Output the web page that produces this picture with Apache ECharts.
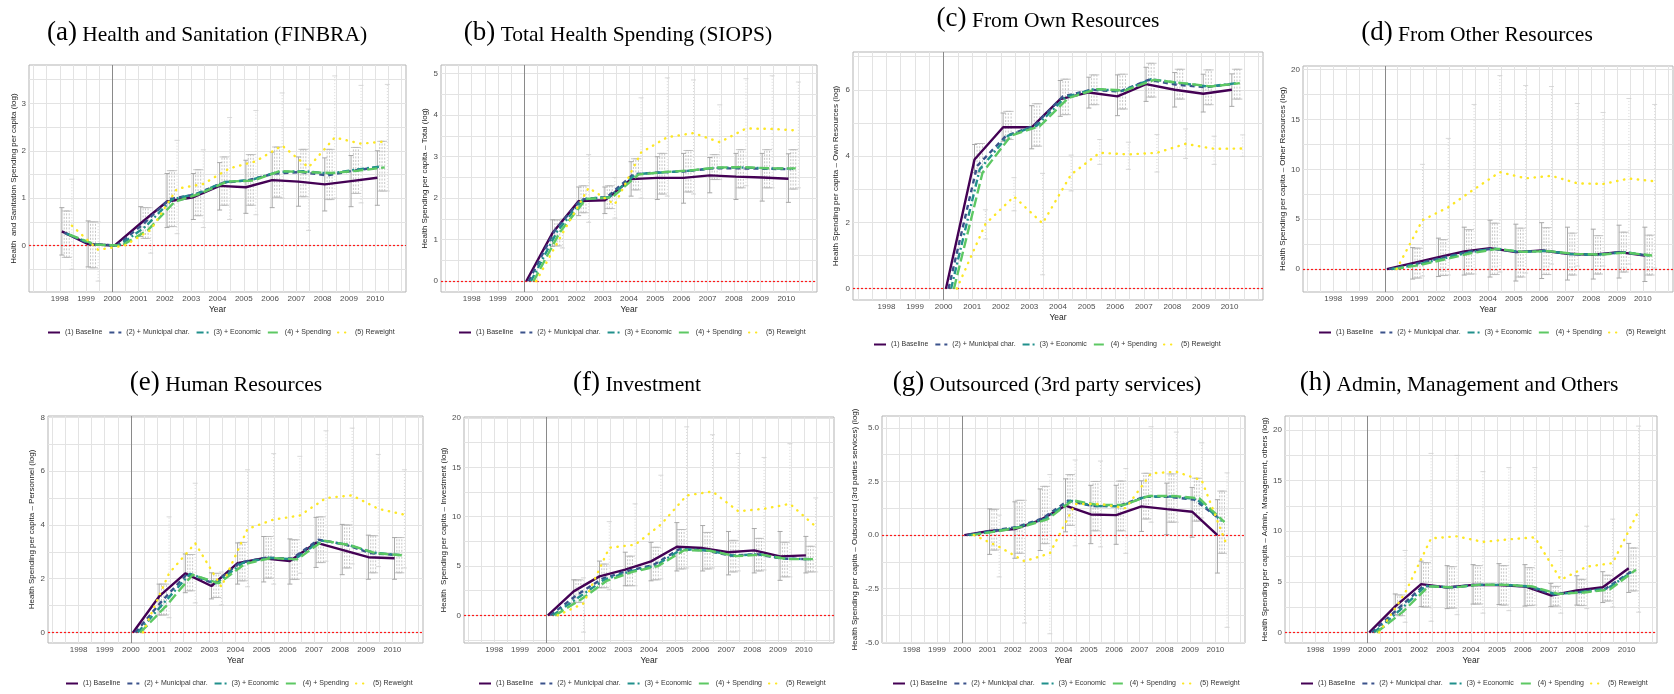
<!DOCTYPE html>
<html>
<head>
<meta charset="utf-8">
<script src="https://cdn.jsdelivr.net/npm/echarts@6.0.0/dist/echarts.min.js"></script>
<style>
  html, body { margin: 0; padding: 0; background: #ffffff; }
  #chart { width: 1674px; height: 694px; }
</style>
</head>
<body>
<div id="chart"></div>
<script>
// Event-study estimates of municipal health spending per capita (log),
// relative to the year 2000, for five model specifications.

const yearsLong = [1998, 1999, 2000, 2001, 2002, 2003, 2004, 2005, 2006, 2007, 2008, 2009, 2010];
const yearsShort = [2000, 2001, 2002, 2003, 2004, 2005, 2006, 2007, 2008, 2009, 2010];
const yearLabels = [1998, 1999, 2000, 2001, 2002, 2003, 2004, 2005, 2006, 2007, 2008, 2009, 2010];
const yearGrid = [1997, 1997.5, 1998, 1998.5, 1999, 1999.5, 2000, 2000.5, 2001, 2001.5, 2002, 2002.5,
  2003, 2003.5, 2004, 2004.5, 2005, 2005.5, 2006, 2006.5, 2007, 2007.5, 2008, 2008.5,
  2009, 2009.5, 2010, 2010.5, 2011];

const modelNames = ['(1) Baseline', '(2) + Municipal char.', '(3) + Economic', '(4) + Spending', '(5) Reweight'];

const panelTags = ['(a)', '(b)', '(c)', '(d)', '(e)', '(f)', '(g)', '(h)'];
const panelTitles = ['Health and Sanitation (FINBRA)', 'Total Health Spending (SIOPS)', 'From Own Resources',
  'From Other Resources', 'Human Resources', 'Investment', 'Outsourced (3rd party services)',
  'Admin, Management and Others'];
const yNames = [
  'Health  and Sanitation Spending per capita (log)',
  'Health Spending per capita \u2013 Total (log)',
  'Health Spending per capita \u2013 Own Resources (log)',
  'Health Spending per capita \u2013 Other Resources (log)',
  'Health Spending per capita \u2013 Personnel (log)',
  'Health  Spending per capita \u2013 Investment (log)',
  'Health Spending per capita \u2013 Outsourced (3rd parties services) (log)',
  'Health Spending per capita \u2013 Admin, Management, others (log)'
];

// y-axis tick labels and grid positions per panel
const aTicks = [0, 1, 2, 3];
const aGrid = [-0.5, 0, 0.5, 1, 1.5, 2, 2.5, 3, 3.5];
const bTicks = [0, 1, 2, 3, 4, 5];
const bGrid = [0, 0.5, 1, 1.5, 2, 2.5, 3, 3.5, 4, 4.5, 5];
const cTicks = [0, 2, 4, 6];
const cGrid = [0, 1, 2, 3, 4, 5, 6, 7];
const dTicks = [0, 5, 10, 15, 20];
const dGrid = [0, 2.5, 5, 7.5, 10, 12.5, 15, 17.5, 20];
const eTicks = [0, 2, 4, 6, 8];
const eGrid = [0, 1, 2, 3, 4, 5, 6, 7, 8];
const fTicks = [0, 5, 10, 15, 20];
const fGrid = [-2.5, 0, 2.5, 5, 7.5, 10, 12.5, 15, 17.5, 20];
const gTicks = [-5, -2.5, 0, 2.5, 5];
const gGrid = [-5, -3.75, -2.5, -1.25, 0, 1.25, 2.5, 3.75, 5];
const hTicks = [0, 5, 10, 15, 20];
const hGrid = [0, 2.5, 5, 7.5, 10, 12.5, 15, 17.5, 20];

// (a) Health and Sanitation (FINBRA), 1998-2010
const A_base = [0.30, 0.03, 0, 0.47, 0.93, 1.02, 1.26, 1.23, 1.38, 1.35, 1.29, 1.36, 1.43];
const A_mun  = [0.27, 0.03, 0, 0.45, 0.98, 1.08, 1.32, 1.38, 1.52, 1.55, 1.48, 1.58, 1.66];
const A_eco  = [0.25, 0.02, 0, 0.40, 0.97, 1.10, 1.34, 1.38, 1.55, 1.57, 1.52, 1.60, 1.67];
const A_spd  = [0.23, 0.02, 0, 0.33, 0.92, 1.10, 1.35, 1.37, 1.57, 1.55, 1.53, 1.58, 1.65];
const A_rew  = [0.42, -0.09, 0, 0.33, 1.20, 1.30, 1.63, 1.78, 2.11, 1.65, 2.28, 2.15, 2.20];
const A_bLo = [-0.20, -0.45, null, 0.19, 0.38, 0.55, 0.75, 0.68, 0.80, 0.83, 0.73, 0.82, 0.85];
const A_bHi = [0.80, 0.52, null, 0.82, 1.52, 1.52, 1.75, 1.80, 1.97, 1.87, 1.85, 1.90, 2.00];
const A_cLo = [-0.25, -0.47, null, 0.15, 0.40, 0.63, 0.85, 0.85, 1.02, 1.03, 0.97, 1.10, 1.15];
const A_cHi = [0.73, 0.50, null, 0.80, 1.58, 1.60, 1.87, 1.92, 2.08, 2.03, 2.03, 2.07, 2.20];
const A_rLo = [-0.50, -0.75, null, -0.16, 0.25, 0.38, 0.55, 0.65, 1.00, 0.32, 1.00, 0.90, 1.15];
const A_rHi = [1.40, 0.50, null, 0.80, 2.22, 2.02, 2.70, 2.85, 3.22, 2.88, 3.58, 3.38, 3.40];

// (b) Total Health Spending (SIOPS), 2000-2010
const B_base = [0, 1.16, 1.93, 1.95, 2.46, 2.49, 2.49, 2.55, 2.52, 2.50, 2.47];
const B_mun  = [0, 1.22, 1.97, 2.03, 2.58, 2.62, 2.65, 2.72, 2.72, 2.71, 2.70];
const B_eco  = [0, 1.20, 1.98, 2.03, 2.58, 2.62, 2.66, 2.73, 2.74, 2.72, 2.71];
const B_spd  = [0, 1.18, 1.98, 2.02, 2.57, 2.63, 2.67, 2.74, 2.75, 2.72, 2.72];
const B_rew  = [0, 1.15, 2.25, 1.85, 3.10, 3.47, 3.57, 3.35, 3.68, 3.67, 3.63];
const B_bLo = [null, 0.84, 1.58, 1.63, 2.05, 1.97, 1.88, 2.13, 1.97, 1.93, 1.90];
const B_bHi = [null, 1.48, 2.27, 2.27, 2.88, 3.00, 3.08, 2.98, 3.08, 3.08, 3.07];
const B_cLo = [null, 0.85, 1.65, 1.75, 2.20, 2.10, 2.15, 2.45, 2.25, 2.25, 2.22];
const B_cHi = [null, 1.48, 2.30, 2.30, 2.95, 3.08, 3.15, 3.05, 3.17, 3.17, 3.17];
const B_rLo = [null, 0.80, 1.42, 1.52, 2.00, 2.05, 2.10, 2.45, 2.30, 2.25, 2.25];
const B_rHi = [null, 1.50, 3.05, 2.50, 4.42, 4.90, 4.85, 4.25, 4.88, 4.95, 4.80];

// (c) From Own Resources
const C_base = [0, 3.90, 4.87, 4.87, 5.72, 5.92, 5.80, 6.17, 6.00, 5.88, 6.00];
const C_mun  = [0, 3.70, 4.60, 4.92, 5.80, 6.00, 5.95, 6.30, 6.15, 6.08, 6.18];
const C_eco  = [0, 3.60, 4.62, 4.92, 5.78, 6.02, 5.97, 6.32, 6.20, 6.10, 6.20];
const C_spd  = [0, 3.50, 4.62, 4.90, 5.75, 6.02, 5.98, 6.30, 6.20, 6.10, 6.20];
const C_rew  = [0, 1.95, 2.78, 1.97, 3.45, 4.10, 4.05, 4.10, 4.37, 4.22, 4.23];
const C_bLo = [null, 3.50, 4.45, 4.22, 5.20, 5.45, 5.22, 5.65, 5.48, 5.33, 5.50];
const C_bHi = [null, 4.35, 5.30, 5.52, 6.28, 6.38, 6.45, 6.68, 6.52, 6.47, 6.48];
const C_cLo = [null, 3.50, 4.50, 4.30, 5.25, 5.55, 5.42, 5.78, 5.72, 5.55, 5.72];
const C_cHi = [null, 4.38, 5.35, 5.58, 6.32, 6.45, 6.47, 6.80, 6.62, 6.60, 6.62];
const C_rLo = [null, 1.50, 2.35, 0.42, 2.95, 3.75, 3.60, 3.52, 3.93, 3.75, 3.99];
const C_rHi = [null, 2.38, 3.35, 3.48, 4.03, 4.50, 4.42, 4.65, 4.82, 4.60, 4.64];

// (d) From Other Resources
const D_base = [0, 0.60, 1.20, 1.76, 2.10, 1.70, 1.86, 1.53, 1.43, 1.70, 1.36];
const D_mun  = [0, 0.50, 1.10, 1.70, 2.05, 1.70, 1.85, 1.50, 1.42, 1.68, 1.38];
const D_eco  = [0, 0.45, 1.05, 1.68, 2.05, 1.72, 1.82, 1.50, 1.45, 1.70, 1.35];
const D_spd  = [0, 0.40, 1.00, 1.60, 2.02, 1.72, 1.80, 1.52, 1.45, 1.65, 1.36];
const D_rew  = [0, 4.90, 6.20, 8.00, 9.72, 9.10, 9.35, 8.60, 8.53, 9.08, 8.80];
const D_bLo = [null, -1.00, -0.75, -0.60, -0.80, -1.20, -0.95, -1.10, -1.00, -0.90, -1.25];
const D_bHi = [null, 2.15, 3.10, 4.20, 4.90, 4.50, 4.65, 4.20, 4.00, 4.40, 4.20];
const D_cLo = [null, -0.90, -0.65, -0.50, -0.55, -0.80, -0.55, -0.60, -0.50, -0.30, -0.60];
const D_cHi = [null, 2.10, 2.95, 3.95, 4.60, 4.10, 4.15, 3.60, 3.35, 3.70, 3.40];
const D_rLo = [null, -0.70, -0.60, -0.50, -0.30, -0.40, 0.50, 0.30, 0.30, 0.50, 0.10];
const D_rHi = [null, 10.50, 13.10, 16.50, 19.40, 18.40, 18.30, 16.60, 15.70, 17.10, 16.50];

// (e) Human Resources
const E_base = [0, 1.34, 2.20, 1.73, 2.58, 2.76, 2.66, 3.34, 3.07, 2.80, 2.76];
const E_mun  = [0, 1.15, 2.20, 1.82, 2.60, 2.78, 2.75, 3.45, 3.28, 2.95, 2.88];
const E_eco  = [0, 1.10, 2.18, 1.83, 2.58, 2.78, 2.72, 3.42, 3.27, 2.97, 2.88];
const E_spd  = [0, 1.00, 2.15, 1.83, 2.55, 2.77, 2.72, 3.42, 3.25, 2.95, 2.87];
const E_rew  = [0, 2.20, 3.32, 1.70, 3.85, 4.20, 4.35, 5.00, 5.10, 4.60, 4.38];
const E_bLo = [null, 0.65, 1.48, 1.25, 1.80, 1.88, 1.80, 2.42, 2.15, 1.98, 1.98];
const E_bHi = [null, 1.80, 2.92, 2.22, 3.33, 3.57, 3.48, 4.28, 4.02, 3.62, 3.53];
const E_cLo = [null, 0.65, 1.55, 1.30, 1.92, 2.02, 1.97, 2.60, 2.40, 2.22, 2.22];
const E_cHi = [null, 1.80, 2.90, 2.20, 3.35, 3.57, 3.45, 4.30, 4.00, 3.60, 3.53];
const E_rLo = [null, 0.55, 1.10, 1.02, 1.70, 1.80, 2.20, 2.65, 2.55, 2.45, 2.40];
const E_rHi = [null, 4.30, 5.55, 2.25, 6.05, 6.65, 6.55, 7.50, 7.60, 6.62, 6.05];

// (f) Investment
const F_base = [0, 2.43, 3.95, 4.63, 5.47, 6.96, 6.82, 6.39, 6.59, 5.98, 6.08];
const F_mun  = [0, 2.00, 3.70, 4.50, 5.10, 6.70, 6.60, 6.05, 6.20, 5.75, 5.70];
const F_eco  = [0, 1.80, 3.60, 4.45, 5.05, 6.70, 6.60, 6.05, 6.20, 5.75, 5.70];
const F_spd  = [0, 1.60, 3.50, 4.40, 5.00, 6.60, 6.55, 6.00, 6.15, 5.70, 5.70];
const F_rew  = [0, 1.20, 6.85, 7.16, 9.20, 12.15, 12.55, 10.55, 10.80, 11.30, 9.00];
const F_bLo = [null, 1.25, 2.80, 3.00, 3.50, 4.50, 4.50, 4.10, 4.30, 3.55, 4.30];
const F_bHi = [null, 3.60, 5.50, 6.40, 7.40, 9.40, 9.10, 8.50, 8.80, 8.50, 8.00];
const F_cLo = [null, 1.30, 2.80, 3.00, 3.60, 4.70, 4.70, 4.40, 4.50, 3.90, 4.40];
const F_cHi = [null, 3.60, 5.20, 6.00, 6.90, 8.70, 8.40, 7.60, 7.80, 7.40, 7.00];
const F_rLo = [null, -1.70, 2.60, 3.00, 3.70, 4.80, 4.80, 4.50, 4.60, 3.90, 4.40];
const F_rHi = [null, 3.80, 9.50, 11.30, 14.20, 19.10, 18.30, 16.40, 16.00, 17.40, 11.90];

// (g) Outsourced (3rd party services)
const G_base = [0, 0.19, 0.28, 0.70, 1.37, 0.96, 0.93, 1.34, 1.21, 1.09, 0.00];
const G_mun  = [0, 0.20, 0.38, 0.78, 1.60, 1.35, 1.35, 1.78, 1.78, 1.65, 0.75];
const G_eco  = [0, 0.18, 0.38, 0.75, 1.60, 1.35, 1.35, 1.80, 1.80, 1.68, 0.65];
const G_spd  = [0, 0.17, 0.38, 0.73, 1.62, 1.40, 1.40, 1.82, 1.82, 1.72, 0.60];
const G_rew  = [0, -0.55, -1.22, -0.85, 1.45, 1.45, 1.25, 2.88, 2.95, 2.55, -0.50];
const G_bLo = [null, -0.90, -1.08, -0.72, 0.15, -0.40, -0.43, 0.17, 0.02, -0.10, -1.77];
const G_bHi = [null, 1.22, 1.55, 2.15, 2.62, 2.32, 2.32, 2.53, 2.42, 2.22, 1.65];
const G_cLo = [null, -0.70, -0.85, -0.40, 0.45, 0.20, 0.20, 0.75, 0.60, 0.65, -0.85];
const G_cHi = [null, 1.20, 1.62, 2.27, 2.82, 2.50, 2.52, 2.88, 2.85, 2.65, 2.05];
const G_rLo = [null, -1.95, -4.10, -4.60, -0.50, -0.55, -0.85, 0.60, 0.60, 0.80, -4.30];
const G_rHi = [null, 0.93, 1.62, 2.82, 3.50, 3.45, 3.10, 5.05, 4.80, 4.30, 2.90];

// (h) Admin, Management and Others
const H_base = [0, 2.57, 4.77, 4.44, 4.70, 4.67, 4.54, 3.65, 4.14, 4.47, 6.35];
const H_mun  = [0, 2.30, 4.60, 4.45, 4.70, 4.70, 4.55, 3.75, 4.00, 4.30, 6.00];
const H_eco  = [0, 2.20, 4.60, 4.45, 4.70, 4.70, 4.55, 3.78, 4.00, 4.32, 6.10];
const H_spd  = [0, 2.00, 4.55, 4.45, 4.72, 4.70, 4.55, 3.80, 3.95, 4.25, 6.20];
const H_rew  = [0, 3.90, 9.30, 9.50, 8.95, 9.20, 9.40, 5.20, 6.50, 6.85, 12.00];
const H_bLo = [null, 1.75, 2.55, 2.35, 2.80, 2.75, 2.60, 2.55, 2.70, 2.95, 3.95];
const H_bHi = [null, 3.80, 7.05, 6.60, 6.70, 6.80, 6.70, 4.85, 5.60, 6.00, 8.80];
const H_cLo = [null, 1.65, 2.50, 2.40, 2.80, 2.70, 2.65, 2.60, 2.65, 3.10, 4.10];
const H_cHi = [null, 3.70, 6.90, 6.50, 6.60, 6.60, 6.40, 4.55, 5.25, 5.65, 8.35];
const H_rLo = [null, 1.00, 1.10, 1.75, 1.90, 2.15, 2.70, 1.90, 2.35, 2.50, 2.00];
const H_rHi = [null, 8.10, 17.70, 17.50, 15.90, 16.30, 16.30, 8.10, 10.50, 11.20, 20.40];

// ---------------------------------------------------------------------------
// Panel wiring: data arrays + frame geometry (px) for each small multiple
const panels = [
  { years: yearsLong,  lines: [A_base, A_mun, A_eco, A_spd, A_rew], bars: [A_bLo, A_bHi, A_cLo, A_cHi, A_rLo, A_rHi],
    ticks: aTicks, grid: aGrid, ymin: -0.98, ymax: 3.81,
    box: [29, 65, 406, 292], nameGap: 11, title: [207, 16], legend: [47, 329] },
  { years: yearsShort, lines: [B_base, B_mun, B_eco, B_spd, B_rew], bars: [B_bLo, B_bHi, B_cLo, B_cHi, B_rLo, B_rHi],
    ticks: bTicks, grid: bGrid, ymin: -0.26, ymax: 5.21,
    box: [441, 65, 817, 292], nameGap: 12, title: [618, 16], legend: [458, 329] },
  { years: yearsShort, lines: [C_base, C_mun, C_eco, C_spd, C_rew], bars: [C_bLo, C_bHi, C_cLo, C_cHi, C_rLo, C_rHi],
    ticks: cTicks, grid: cGrid, ymin: -0.34, ymax: 7.14,
    box: [853, 52, 1263, 300], nameGap: 13, title: [1048, 2], legend: [873, 341] },
  { years: yearsShort, lines: [D_base, D_mun, D_eco, D_spd, D_rew], bars: [D_bLo, D_bHi, D_cLo, D_cHi, D_rLo, D_rHi],
    ticks: dTicks, grid: dGrid, ymin: -2.3, ymax: 20.36,
    box: [1303, 66, 1673, 292], nameGap: 16, title: [1477, 16], legend: [1318, 329] },
  { years: yearsShort, lines: [E_base, E_mun, E_eco, E_spd, E_rew], bars: [E_bLo, E_bHi, E_cLo, E_cHi, E_rLo, E_rHi],
    ticks: eTicks, grid: eGrid, ymin: -0.39, ymax: 8.05,
    box: [48, 416, 423, 643], nameGap: 12, title: [226, 366], legend: [65, 680] },
  { years: yearsShort, lines: [F_base, F_mun, F_eco, F_spd, F_rew], bars: [F_bLo, F_bHi, F_cLo, F_cHi, F_rLo, F_rHi],
    ticks: fTicks, grid: fGrid, ymin: -2.8, ymax: 20.1,
    box: [464, 417, 834, 643], nameGap: 16, title: [637, 366], legend: [478, 680] },
  { years: yearsShort, lines: [G_base, G_mun, G_eco, G_spd, G_rew], bars: [G_bLo, G_bHi, G_cLo, G_cHi, G_rLo, G_rHi],
    ticks: gTicks, grid: gGrid, ymin: -5.03, ymax: 5.55, decimals: 1,
    box: [882, 416, 1245, 643], nameGap: 23, title: [1047, 366], legend: [892, 680] },
  { years: yearsShort, lines: [H_base, H_mun, H_eco, H_spd, H_rew], bars: [H_bLo, H_bHi, H_cLo, H_cHi, H_rLo, H_rHi],
    ticks: hTicks, grid: hGrid, ymin: -1.05, ymax: 21.4,
    box: [1285, 416, 1657, 643], nameGap: 14, title: [1459, 366], legend: [1300, 680] }
];

// horizontal dodge of each specification within a year
const DODGE = [0.08, 0.17, 0.26, 0.36, 0.46];
const COLORS = ['#440154', '#3B528B', '#21908C', '#5DC863', '#FDE725'];
const LINE_STYLES = [
  { width: 2.4, type: 'solid' },
  { width: 2.4, type: [5, 4] },
  { width: 2.4, type: [7, 3, 2, 3] },
  { width: 2.4, type: [10, 4] },
  { width: 2.4, type: [0.4, 6.6], cap: 'round' }
];
const SANS = 'Liberation Sans, Arial, Helvetica, sans-serif';
const SERIF = 'Liberation Serif, Times New Roman, serif';

function errorBarSeries(idx, data, stroke, dash, lw) {
  return {
    type: 'custom',
    xAxisIndex: idx,
    yAxisIndex: idx,
    silent: true,
    z: 1,
    data: data,
    encode: { x: 0, y: [1, 2] },
    renderItem: function (params, api) {
      const x = api.value(0);
      const lo = api.coord([x, api.value(1)]);
      const hi = api.coord([x, api.value(2)]);
      const w = 2.5;
      const st = { stroke: stroke, lineWidth: lw, lineDash: dash, fill: null };
      const cap = { stroke: stroke, lineWidth: lw, fill: null };
      return {
        type: 'group',
        children: [
          { type: 'line', shape: { x1: lo[0], y1: lo[1], x2: hi[0], y2: hi[1] }, style: st },
          { type: 'line', shape: { x1: lo[0] - w, y1: lo[1], x2: lo[0] + w, y2: lo[1] }, style: cap },
          { type: 'line', shape: { x1: hi[0] - w, y1: hi[1], x2: hi[0] + w, y2: hi[1] }, style: cap }
        ]
      };
    }
  };
}

const option = {
  animation: false,
  backgroundColor: '#ffffff',
  title: [], legend: [], grid: [], xAxis: [], yAxis: [], series: []
};

panels.forEach(function (p, i) {
  const [x0, y0, x1, y1] = p.box;

  option.title.push({
    text: '{p|' + panelTags[i] + '}{t| ' + panelTitles[i] + '}',
    left: p.title[0], top: p.title[1], textAlign: 'center', padding: 0,
    textStyle: {
      fontWeight: 'normal',
      rich: {
        p: { fontFamily: SERIF, fontSize: 27, fontWeight: 'normal', color: '#000', verticalAlign: 'bottom', lineHeight: 30 },
        t: { fontFamily: SERIF, fontSize: 21.5, fontWeight: 'normal', color: '#000', verticalAlign: 'bottom', lineHeight: 30 }
      }
    }
  });

  option.legend.push({
    data: modelNames, left: p.legend[0], top: p.legend[1], padding: 0,
    itemWidth: 12, itemHeight: 8, itemGap: 6, selectedMode: false,
    itemStyle: { opacity: 0 },
    textStyle: { fontFamily: SANS, fontSize: 7, color: '#333' }
  });

  option.grid.push({
    left: x0, top: y0, width: x1 - x0, height: y1 - y0,
    show: true, borderColor: '#b3b3b3', borderWidth: 1, backgroundColor: '#ffffff',
    containLabel: false, outerBoundsMode: 'none'
  });

  option.xAxis.push({
    type: 'value', gridIndex: i, min: 1996.83, max: 2011.17,
    name: 'Year', nameLocation: 'middle', nameGap: 13,
    nameTextStyle: { fontFamily: SANS, fontSize: 8.5, color: '#222' },
    axisLine: { show: false },
    axisTick: { show: false, customValues: yearGrid },
    axisLabel: { customValues: yearLabels, margin: 3, fontFamily: SANS, fontSize: 8, color: '#4d4d4d',
      formatter: function (v) { return String(v); } },
    splitLine: { show: true, lineStyle: { color: '#e3e3e3', width: 1 } }
  });

  option.yAxis.push({
    type: 'value', gridIndex: i, min: p.ymin, max: p.ymax,
    name: yNames[i], nameLocation: 'middle', nameGap: p.nameGap,
    nameTextStyle: { fontFamily: SANS, fontSize: 8, color: '#222' },
    axisLine: { show: false },
    axisTick: { show: false, customValues: p.grid },
    axisLabel: { customValues: p.ticks, margin: 3, fontFamily: SANS, fontSize: 8, color: '#4d4d4d',
      formatter: function (v) { return p.decimals ? v.toFixed(p.decimals) : String(v); } },
    splitLine: { show: true, lineStyle: { color: '#e3e3e3', width: 1 } }
  });

  // confidence intervals
  const [bLo, bHi, cLo, cHi, rLo, rHi] = p.bars;
  const baseBars = [], ctrlBars = [], rewBars = [];
  p.years.forEach(function (yr, k) {
    if (bLo[k] !== null) baseBars.push([yr + DODGE[0], bLo[k], bHi[k]]);
    if (cLo[k] !== null) {
      for (let m = 1; m <= 3; m++) ctrlBars.push([yr + DODGE[m], cLo[k], cHi[k]]);
    }
    if (rLo[k] !== null) rewBars.push([yr + DODGE[4], rLo[k], rHi[k]]);
  });
  option.series.push(errorBarSeries(i, rewBars, '#cfcfcf', [1, 2], 0.8));
  option.series.push(errorBarSeries(i, ctrlBars, '#b8b8b8', [2, 1.5], 0.8));
  option.series.push(errorBarSeries(i, baseBars, '#a8a8a8', null, 1));

  // point estimates for the five specifications
  p.lines.forEach(function (vals, m) {
    const s = {
      type: 'line', name: modelNames[m], xAxisIndex: i, yAxisIndex: i,
      data: p.years.map(function (yr, k) { return [yr + DODGE[m], vals[k]]; }),
      symbol: 'none', showSymbol: false, silent: true, z: 3 + m,
      lineStyle: Object.assign({ color: COLORS[m] }, LINE_STYLES[m]),
      itemStyle: { color: COLORS[m] }
    };
    if (m === 0) {
      s.markLine = {
        silent: true, symbol: 'none', label: { show: false }, z: 2,
        data: [
          { xAxis: 2000, lineStyle: { color: '#8a8a8a', width: 1, type: 'solid' } },
          { yAxis: 0, lineStyle: { color: '#ff1a1a', width: 1.2, type: [2, 2] } }
        ]
      };
    }
    option.series.push(s);
  });
});

const chart = echarts.init(document.getElementById('chart'), null, { renderer: 'canvas' });
chart.setOption(option);
</script>
</body>
</html>
